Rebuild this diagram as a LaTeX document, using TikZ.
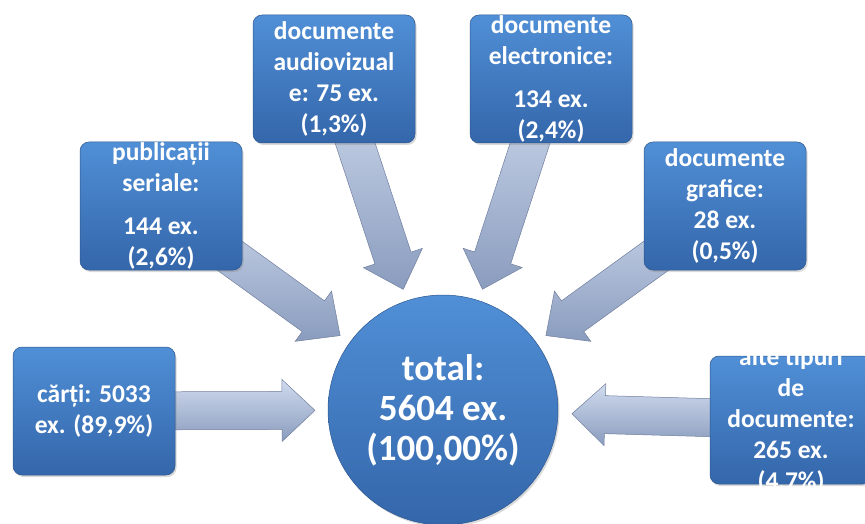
\documentclass[tikz,border=0pt]{standalone}
\usepackage{fontspec}
\setmainfont{Carlito}
\usepackage{tikz}
\usetikzlibrary{calc, shadows, backgrounds}

\definecolor{boxtop}{RGB}{80,143,214}
\definecolor{boxbot}{RGB}{52,102,170}
\definecolor{arrlight}{RGB}{208,219,238}
\definecolor{arrdark}{RGB}{138,156,190}
\definecolor{arredge}{RGB}{112,127,158}

\tikzset{
  box/.style={rectangle, rounded corners=9pt, minimum width=162pt, minimum height=128pt,
    top color=boxtop, bottom color=boxbot, draw=boxbot!85!black, line width=0.5pt,
    drop shadow={opacity=0.3, shadow xshift=1.5pt, shadow yshift=-2pt}},
  hub/.style={circle, minimum size=230pt, inner sep=0pt,
    top color=boxtop, bottom color=boxbot, draw=boxbot!85!black, line width=0.5pt,
    drop shadow={opacity=0.3, shadow xshift=1.5pt, shadow yshift=-2pt}},
  txt/.style={text=white, font=\fontsize{25.5}{31}\selectfont\bfseries, align=center, inner sep=0pt},
  hubtxt/.style={text=white, font=\fontsize{37}{40}\selectfont\bfseries, align=center, inner sep=0pt},
  blockarr/.style={top color=arrlight, bottom color=arrdark, draw=arredge, line width=0.5pt, line join=miter}
}

% block arrow from a node (tail, hidden under the box) to a tip coordinate
\newcommand{\blockarrow}[2]{%
  \coordinate (hb) at ($(#2)!33pt!(#1)$);
  \path[blockarr] ($(#1)!19pt!90:(#2)$) -- ($(hb)!19pt!90:(#2)$) -- ($(hb)!31pt!90:(#2)$)
    -- (#2) -- ($(hb)!31pt!-90:(#2)$) -- ($(hb)!19pt!-90:(#2)$) -- ($(#1)!19pt!-90:(#2)$) -- cycle;
}

\begin{document}
\begin{tikzpicture}[x=1pt, y=-1pt]
\useasboundingbox (0,0) rectangle (865,524);
%
\node[hub](tot) at (443,410) {};
\node[hubtxt](tottx) at (tot) {total:\\5604 ex.\\(100,00\%)};
%
\node[box](av) at (334,79) {};
\node[txt](avtx) at (av) {documente\\audiovizual\\e: 75 ex.\\(1,3\%)};
%
\node[box](el) at (551,79) {};
\node[txt](eltx) at (el) {documente\\electronice:\\[12pt]134 ex.\\(2,4\%)};
%
\node[box](pub) at (161,206) {};
\node[txt](pubtx) at (pub) {publicații\\seriale:\\[12pt]144 ex.\\(2,6\%)};
%
\node[box](gr) at (725,206) {};
\node[txt](grtx) at (gr) {documente\\grafice:\\28 ex.\\(0,5\%)};
%
\node[box](ca) at (94,411) {};
\node[txt](catx) at (ca) {cărți: 5033\\ex. (89,9\%)};
%
\node[box](al) at (791,420) {};
\node[txt](altx) at (al) {alte tipuri\\de\\documente:\\265 ex.\\(4,7\%)};
%
\coordinate(tipav) at ($(tot)!127pt!(av)$);
\coordinate(tipel) at ($(tot)!127pt!(el)$);
\coordinate(tippub) at ($(tot)!127pt!(pub)$);
\coordinate(tipgr) at ($(tot)!127pt!(gr)$);
\coordinate(tipca) at ($(tot)!128pt!(ca)$);
\coordinate(tipal) at ($(tot)!129pt!(al)$);
%
\begin{scope}[on background layer]
\blockarrow{av}{tipav}
\blockarrow{el}{tipel}
\blockarrow{pub}{tippub}
\blockarrow{gr}{tipgr}
\blockarrow{ca}{tipca}
\blockarrow{al}{tipal}
\end{scope}
\end{tikzpicture}
\end{document}
